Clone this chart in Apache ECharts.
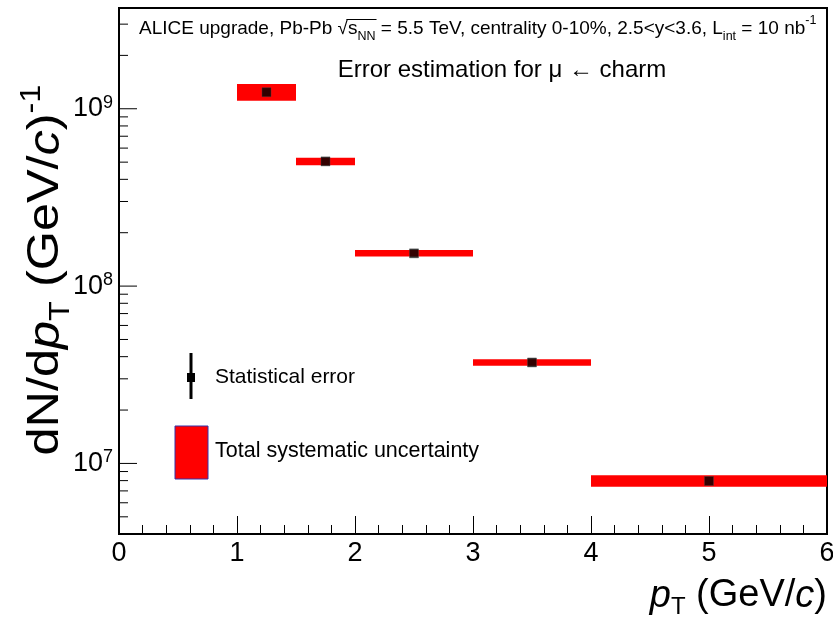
<!DOCTYPE html>
<html>
<head>
<meta charset="utf-8">
<script src="https://cdn.jsdelivr.net/npm/echarts@6/dist/echarts.min.js"></script>
<style>html,body{margin:0;padding:0;background:#fff;}#c{width:833px;height:617px;}</style>
</head>
<body>
<div id="c"></div>
<script>
// ---- data ----
const ptCenter = [1.25, 1.75, 2.5, 3.5, 5];
const ptLow    = [1, 1.5, 2, 3, 4];
const ptHigh   = [1.5, 2, 3, 4, 6];
const yieldVal = [1.24e9, 5.05e8, 1.53e8, 3.71e7, 7.96e6];
const sysLow   = [1.11e9, 4.81e8, 1.47e8, 3.55e7, 7.38e6];
const sysHigh  = [1.38e9, 5.29e8, 1.60e8, 3.87e7, 8.59e6];
const xTickLabels = ['0','1','2','3','4','5','6'];
const yMajorTicks = [1e7, 1e8, 1e9];
const yTickExponents = ['7', '8', '9'];
const yMinorTicks = [5e6,6e6,7e6,8e6,9e6,
                     2e7,3e7,4e7,5e7,6e7,7e7,8e7,9e7,
                     2e8,3e8,4e8,5e8,6e8,7e8,8e8,9e8,
                     2e9,3e9];

const FONT = 'Liberation Sans, Arial, Helvetica, sans-serif';
const chart = echarts.init(document.getElementById('c'), null, {renderer: 'canvas'});

const sysData = ptCenter.map((x, i) => [ptLow[i], ptHigh[i], sysLow[i], sysHigh[i]]);
const pointData = ptCenter.map((x, i) => [x, yieldVal[i]]);
const yTickData = yMajorTicks.map(v => [v, 1]).concat(yMinorTicks.map(v => [v, 0]));

// measure header pieces for the square-root overline
const HFS = 19, HSUB = 12.5;
const mctx = document.createElement('canvas').getContext('2d');
mctx.font = HFS + 'px ' + FONT;
const headerX = 139;
const wPre = mctx.measureText('ALICE upgrade, Pb-Pb ').width;
const wRad = mctx.measureText('√').width;
const wS = mctx.measureText('s').width;
mctx.font = HSUB + 'px ' + FONT;
const wNN = mctx.measureText('NN').width;
const olX1 = headerX + wPre + wRad - 1.5;
const olX2 = headerX + wPre + wRad + wS + wNN + 1;

const option = {
  animation: false,
  backgroundColor: '#fff',
  grid: {left: 119, right: 6, top: 8, bottom: 83, show: true, borderColor: '#000', borderWidth: 2,
         backgroundColor: 'transparent', outerBoundsMode: 'none', containLabel: false},
  xAxis: {
    type: 'value', min: 0, max: 6, interval: 1,
    axisLine: {show: true, lineStyle: {color: '#000', width: 2}},
    axisTick: {show: true, inside: true, length: 18, lineStyle: {color: '#000', width: 1}},
    minorTick: {show: true, splitNumber: 5, length: 9, lineStyle: {color: '#000', width: 1}},
    splitLine: {show: false},
    axisLabel: {color: '#000', fontFamily: FONT, fontSize: 27, margin: 6,
      formatter: v => xTickLabels[Math.round(v)] }
  },
  yAxis: {
    type: 'log', logBase: 10, min: 4e6, max: 3.7e9,
    axisLine: {show: true, lineStyle: {color: '#000', width: 2}},
    axisTick: {show: false},
    minorTick: {show: false},
    splitLine: {show: false},
    axisLabel: {
      color: '#000', fontFamily: FONT, margin: 6, showMinLabel: false, showMaxLabel: false,
      formatter: function (v) {
        for (let i = 0; i < yMajorTicks.length; i++) {
          if (Math.abs(v - yMajorTicks[i]) / yMajorTicks[i] < 1e-6) return '{b|10}{s|' + yTickExponents[i] + '}';
        }
        return '';
      },
      rich: {
        b: {fontSize: 27, fontFamily: FONT, color: '#000', lineHeight: 30},
        s: {fontSize: 18, fontFamily: FONT, color: '#000', verticalAlign: 'top', lineHeight: 22}
      }
    }
  },
  graphic: [
    {type: 'text', left: headerX, top: 14, style: {
      text: '{n|ALICE upgrade, Pb-Pb }{n|√}{n|s}{sub|NN}{n| = 5.5 TeV, centrality 0-10%, 2.5<y<3.6, L}{sub|int}{n| = 10 nb}{sup|-1}',
      fill: '#000', font: HFS + 'px ' + FONT,
      rich: {
        n: {fontSize: HFS, fontFamily: FONT, lineHeight: 29, fill: '#000'},
        sub: {fontSize: HSUB, fontFamily: FONT, lineHeight: 14, verticalAlign: 'bottom', fill: '#000'},
        sup: {fontSize: HSUB, fontFamily: FONT, lineHeight: 14, verticalAlign: 'top', fill: '#000'}
      }}},
    {type: 'line', shape: {x1: olX1, y1: 19.5, x2: olX2, y2: 19.5}, style: {stroke: '#000', lineWidth: 1}},
    {type: 'text', x: 502, y: 70, style: {
      text: 'Error estimation for μ ← charm', fill: '#000', font: '24px ' + FONT, align: 'center', verticalAlign: 'middle'}},
    // y axis title
    {type: 'text', x: 46, y: 270, rotation: Math.PI / 2, scaleX: 1.12, style: {
      text: '{n|dN/d}{i|p}{sub|T}{n| (GeV/}{i|c}{n|)}{sup|-1}', align: 'center', verticalAlign: 'middle',
      fill: '#000', font: '45px ' + FONT,
      rich: {
        n: {fontSize: 45, fontFamily: FONT, lineHeight: 58, fill: '#000'},
        i: {fontSize: 45, fontFamily: FONT, fontStyle: 'italic', lineHeight: 58, fill: '#000'},
        sub: {fontSize: 29, fontFamily: FONT, lineHeight: 30, verticalAlign: 'bottom', fill: '#000'},
        sup: {fontSize: 29, fontFamily: FONT, lineHeight: 30, verticalAlign: 'top', fill: '#000'}
      }}},
    // x axis title
    {type: 'text', right: 6, top: 577, style: {
      text: '{i|p}{sub|T}{n| (GeV/}{i|c}{n|)}', fill: '#000', font: '38px ' + FONT,
      rich: {
        n: {fontSize: 38, fontFamily: FONT, lineHeight: 46, fill: '#000'},
        i: {fontSize: 38, fontFamily: FONT, fontStyle: 'italic', lineHeight: 46, fill: '#000'},
        sub: {fontSize: 24, fontFamily: FONT, lineHeight: 24, verticalAlign: 'bottom', fill: '#000'}
      }}},
    // legend: statistical error
    {type: 'line', shape: {x1: 191, y1: 353, x2: 191, y2: 399}, style: {stroke: '#000', lineWidth: 3}},
    {type: 'rect', shape: {x: 187, y: 373, width: 8, height: 9}, style: {fill: '#000'}},
    {type: 'text', x: 215, y: 377, style: {text: 'Statistical error', fill: '#000', font: '21px ' + FONT, verticalAlign: 'middle'}},
    // legend: systematic
    {type: 'rect', shape: {x: 175, y: 426, width: 33, height: 53}, style: {fill: '#ff0000', stroke: '#3333aa', lineWidth: 1}},
    {type: 'text', x: 215, y: 451, style: {text: 'Total systematic uncertainty', fill: '#000', font: '21.5px ' + FONT, verticalAlign: 'middle'}}
  ],
  series: [
    {
      type: 'custom', name: 'sys', clip: true,
      renderItem: function (params, api) {
        const p1 = api.coord([api.value(0), api.value(3)]);
        const p2 = api.coord([api.value(1), api.value(2)]);
        return {type: 'rect', shape: {x: p1[0], y: p1[1], width: p2[0] - p1[0], height: p2[1] - p1[1]},
                style: {fill: '#ff0000'}};
      },
      encode: {x: [0, 1], y: [2, 3]},
      data: sysData, z: 2
    },
    {
      type: 'scatter', name: 'points', symbol: 'rect', symbolSize: 9,
      itemStyle: {color: '#000', borderColor: '#444', borderWidth: 0.5},
      data: pointData, z: 3
    },
    {
      type: 'custom', name: 'yticks', clip: false, silent: true,
      renderItem: function (params, api) {
        const p = api.coord([0, api.value(0)]);
        const len = api.value(1) ? 18 : 9;
        return {type: 'line', shape: {x1: p[0], y1: p[1], x2: p[0] + len, y2: p[1]},
                style: {stroke: '#000', lineWidth: 1}};
      },
      encode: {y: 0},
      data: yTickData, z: 4
    }
  ]
};
chart.setOption(option);
</script>
</body>
</html>
